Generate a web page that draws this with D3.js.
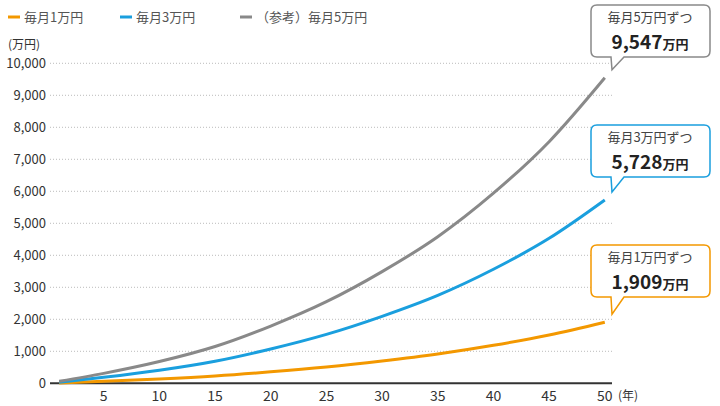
<!DOCTYPE html>
<html>
<head>
<meta charset="utf-8">
<script src="https://d3js.org/d3.v7.min.js"></script>
<style>
  body { margin: 0; background: #fff; }
  text { font-family: "Noto Sans CJK JP", "Noto Sans", sans-serif; }
</style>
</head>
<body>
<script>
const years = [1, 5, 10, 15, 20, 25, 30, 35, 40, 45, 50];
const man1 = [12, 62, 136, 230, 358, 510, 698, 916, 1188, 1510, 1909];
const man3 = [36, 186, 408, 690, 1074, 1530, 2094, 2748, 3564, 4530, 5728];
const man5 = [60, 310, 680, 1150, 1790, 2550, 3490, 4580, 5940, 7550, 9547];
const xTicks = [5, 10, 15, 20, 25, 30, 35, 40, 45, 50];
const yTicks = [0, 1000, 2000, 3000, 4000, 5000, 6000, 7000, 8000, 9000, 10000];

const series = [
  {name: "毎月1万円", color: "#f39800", values: man1, label: "毎月1万円ずつ", total: "1,909", box: 245},
  {name: "毎月3万円", color: "#1a9fde", values: man3, label: "毎月3万円ずつ", total: "5,728", box: 125},
  {name: "（参考）毎月5万円", color: "#898989", values: man5, label: "毎月5万円ずつ", total: "9,547", box: 5}
];

const width = 720, height = 406;
const x = d3.scaleLinear().domain([5, 50]).range([103.7, 604.8]);
const y = d3.scaleLinear().domain([0, 10000]).range([383.3, 63.3]);

const svg = d3.select("body").append("svg").attr("width", width).attr("height", height);

// grid
svg.append("g").selectAll("line").data(yTicks.slice(1)).join("line")
  .attr("x1", 50).attr("x2", 612).attr("y1", d => y(d)).attr("y2", d => y(d))
  .attr("stroke", "#aaa").attr("stroke-width", 0.8).attr("stroke-dasharray", "1,2");

// y labels
svg.append("g").selectAll("text").data(yTicks).join("text")
  .attr("x", 46).attr("y", d => y(d) + 5).attr("text-anchor", "end")
  .attr("font-size", 13).attr("fill", "#333").text(d3.format(","));
svg.append("text").attr("x", 8).attr("y", 49).attr("font-size", 12).attr("fill", "#333").text("(万円)");

// x axis
svg.append("line").attr("x1", 50).attr("x2", 612).attr("y1", y(0)).attr("y2", y(0))
  .attr("stroke", "#333").attr("stroke-width", 2);
svg.append("g").selectAll("text").data(xTicks).join("text")
  .attr("x", d => x(d)).attr("y", 401).attr("text-anchor", "middle")
  .attr("font-size", 14).attr("fill", "#333").text(d => d);
svg.append("text").attr("x", 618).attr("y", 400).attr("font-size", 12).attr("fill", "#333").text("(年)");

// lines
const line = d3.line().x((d, i) => x(years[i])).y(d => y(d)).curve(d3.curveMonotoneX);
series.forEach(s => {
  svg.append("path").datum(s.values).attr("d", line)
    .attr("fill", "none").attr("stroke", s.color).attr("stroke-width", 3);
});

// legend
const legendX = [8, 120, 240];
series.forEach((s, i) => {
  const g = svg.append("g").attr("transform", `translate(${legendX[i]},17)`);
  g.append("line").attr("x1", 0).attr("x2", 12).attr("stroke", s.color).attr("stroke-width", 3);
  g.append("text").attr("x", 16).attr("y", 5).attr("font-size", 13).attr("fill", "#555").text(s.name);
});

// callouts
series.forEach(s => {
  const top = s.box, bot = top + 52, l = 591, r = 710, rad = 6;
  const endY = y(s.values[s.values.length - 1]);
  const tipY = endY - 8;
  const p = `M${l + rad},${top} H${r - rad} Q${r},${top} ${r},${top + rad} V${bot - rad} Q${r},${bot} ${r - rad},${bot}
    H624 L612,${tipY} L611,${bot} H${l + rad} Q${l},${bot} ${l},${bot - rad} V${top + rad} Q${l},${top} ${l + rad},${top} Z`;
  svg.append("path").attr("d", p).attr("fill", "#fff").attr("stroke", s.color).attr("stroke-width", 1.5);
  svg.append("text").attr("x", 650).attr("y", top + 17).attr("text-anchor", "middle")
    .attr("font-size", 13).attr("fill", "#444").text(s.label);
  const t = svg.append("text").attr("x", 650).attr("y", top + 44).attr("text-anchor", "middle")
    .attr("fill", "#222").attr("font-weight", "bold");
  t.append("tspan").attr("font-size", 19).text(s.total);
  t.append("tspan").attr("font-size", 13).text("万円");
});
</script>
</body>
</html>
